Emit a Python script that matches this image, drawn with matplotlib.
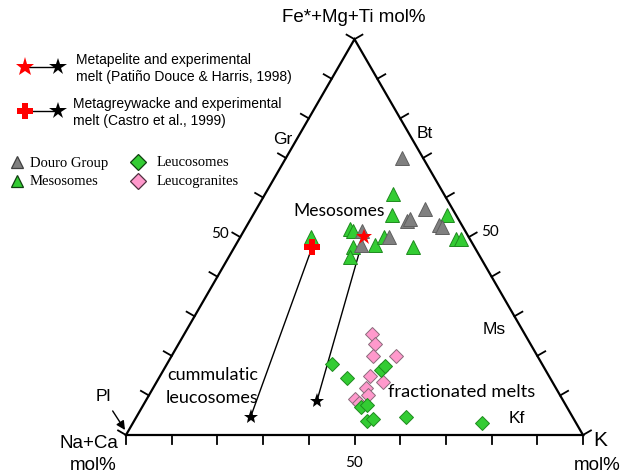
import numpy as np
import matplotlib
matplotlib.use("Agg")
import matplotlib.pyplot as plt

# ---------------- data (mol %) : Fe*+Mg+Ti, Na+Ca, K ----------------
douro_fe = [70, 57, 54, 54.5, 53, 52.5, 51.5, 48, 50]
douro_k  = [25.5, 37, 34.5, 35, 42, 43, 26, 27.5, 32.5]
douro_na = [100 - f - k for f, k in zip(douro_fe, douro_k)]

meso_fe = [61, 55.5, 55.5, 52, 51.5, 47.5, 45, 48, 50, 47.5, 49.5, 49.5, 50]
meso_k  = [28, 30.5, 42.5, 23, 24, 26, 26.5, 30.5, 31.5, 39, 47.5, 48.5, 15.5]
meso_na = [100 - f - k for f, k in zip(meso_fe, meso_k)]

leuco_fe = [18, 14.5, 16.5, 17.5, 7, 7.5, 3.5, 4, 4.5, 3]
leuco_k  = [36, 41, 47.5, 48, 48, 49, 51, 52, 59, 76.5]
leuco_na = [100 - f - k for f, k in zip(leuco_fe, leuco_k)]

lg_fe = [25.5, 23, 20, 20, 15, 13.5, 12, 10, 9, 8]
lg_k  = [41, 43, 44, 49, 46, 49.5, 46.5, 48, 45.5, 47]
lg_na = [100 - f - k for f, k in zip(lg_fe, lg_k)]

# experimental: source -> melt
pelite_src = (50, 23, 27)     # Fe, Na, K  (Patino Douce & Harris 1998)
pelite_melt = (8.5, 54, 37.5)
greyw_src = (47.5, 35.5, 17)  # Castro et al. 1999
greyw_melt = (4.5, 70.5, 25)

tick_values = [50]

# ---------------- helpers ----------------
S3 = np.sqrt(3) / 2


def tern(fe, na, k):
    fe = np.asarray(fe, float); na = np.asarray(na, float); k = np.asarray(k, float)
    tot = fe + na + k
    fe = fe / tot; k = k / tot
    return k + fe / 2, fe * S3


W, H = 623, 477
X0, Y0, SIDE = 126, 436, 457


def P(px, py):
    """figure pixel -> data coords (for annotation placement)"""
    return (px - X0) / SIDE, (Y0 - py) / SIDE


fig = plt.figure(figsize=(W / 100, H / 100), dpi=100)
ax = fig.add_axes([0, 0, 1, 1])
ax.set_xlim(-X0 / SIDE, (W - X0) / SIDE)
ax.set_ylim(-(H - Y0) / SIDE, Y0 / SIDE)
ax.axis("off")

# triangle
ax.plot([0, 1, 0.5, 0], [0, 0, S3, 0], color="black", lw=1.6, zorder=2,
        solid_joinstyle="miter")

# ticks (perpendicular, outward)
L = 0.02
for i in range(11):
    f = i / 10
    ax.plot([f, f], [0, -L], color="black", lw=1.3, zorder=2)
    x, y = 0.5 * f, S3 * f
    ax.plot([x, x - 0.866 * L], [y, y + 0.5 * L], color="black", lw=1.3, zorder=2)
    x, y = 1 - 0.5 * f, S3 * f
    ax.plot([x, x + 0.866 * L], [y, y + 0.5 * L], color="black", lw=1.3, zorder=2)

sans = ["Liberation Sans", "DejaVu Sans"]
cal = ["Lato", "DejaVu Sans"]
serif = ["Liberation Serif", "DejaVu Serif"]

for v in tick_values:
    ax.text(*P(354, 463), str(v), ha="center", va="center", fontsize=11, family=cal)
    ax.text(*P(229, 234), str(v), ha="right", va="center", fontsize=11, family=cal)
    ax.text(*P(481, 232), str(v), ha="left", va="center", fontsize=11, family=cal)

# corner labels
ax.text(*P(354, 18), "Fe*+Mg+Ti mol%", ha="center", va="center", fontsize=13.5, family=sans)
ax.text(*P(89, 444), "Na+Ca", ha="center", va="center", fontsize=13.5, family=sans)
ax.text(*P(93, 466), "mol%", ha="center", va="center", fontsize=13.5, family=sans)
ax.text(*P(600, 441), "K", ha="center", va="center", fontsize=15, family=sans)
ax.text(*P(597, 466), "mol%", ha="center", va="center", fontsize=13.5, family=sans)

# mineral labels
for s, (px, py) in {"Gr": (283, 140), "Bt": (425, 133), "Ms": (494, 330),
                    "Kf": (517, 419)}.items():
    ax.text(*P(px, py), s, ha="center", va="center", fontsize=12.5, family=sans)
ax.annotate("Pl", xy=P(125, 431), xytext=P(103, 397), ha="center", va="center",
            fontsize=12.5, family=sans,
            arrowprops=dict(arrowstyle="-|>", color="black", lw=1.0,
                            mutation_scale=13, shrinkA=4, shrinkB=0))

ax.text(*P(339, 211), "Mesosomes", ha="center", va="center", fontsize=12.5, family=cal)
ax.text(*P(213, 375), "cummulatic", ha="center", va="center", fontsize=13, family=cal)
ax.text(*P(212, 398), "leucosomes", ha="center", va="center", fontsize=13, family=cal)
ax.text(*P(462, 392), "fractionated melts", ha="center", va="center", fontsize=13.2, family=cal)

# tie lines
for src, melt in [(greyw_src, greyw_melt), (pelite_src, pelite_melt)]:
    x1, y1 = tern(*src)
    x2, y2 = tern(*melt)
    ax.plot([x1, x2], [y1, y2], color="black", lw=1.0, zorder=3)

GREEN = "#33cc33"
GREEN_E = "#1f8a1f"
GREY = "#808080"
PINK = "#ff99cc"

x, y = tern(meso_fe, meso_na, meso_k)
ax.plot(x, y, "^", ms=9.5, mfc=GREEN, mec=GREEN_E, mew=0.7, ls="none", zorder=4)
x, y = tern(douro_fe, douro_na, douro_k)
ax.plot(x, y, "^", ms=9.5, mfc=GREY, mec="#606060", mew=0.7, ls="none", zorder=4)
x, y = tern(lg_fe, lg_na, lg_k)
ax.plot(x, y, "D", ms=7, mfc=PINK, mec="#8a6a7a", mew=0.7, ls="none", zorder=4)
x, y = tern(leuco_fe, leuco_na, leuco_k)
ax.plot(x, y, "D", ms=7, mfc=GREEN, mec=GREEN_E, mew=0.7, ls="none", zorder=5)

x, y = tern(*greyw_src)
ax.plot(x, y, "P", ms=11, mfc="red", mec="red", mew=0, zorder=6)
x, y = tern(*pelite_src)
ax.plot(x, y, "*", ms=12, mfc="red", mec="red", mew=0, zorder=6)
for m in (greyw_melt, pelite_melt):
    x, y = tern(*m)
    ax.plot(x, y, "*", ms=11, mfc="black", mec="black", mew=0, zorder=6)

# legend 1 (experimental)
for (py, mk, txt1, txt2) in [(68, "*", "Metapelite and experimental",
                              "melt (Patiño Douce & Harris, 1998)"),
                             (112, "P", "Metagreywacke and experimental",
                              "melt (Castro et al., 1999)")]:
    a = P(25, py); b = P(58, py)
    ax.plot([a[0], b[0]], [a[1], b[1]], color="black", lw=1.0, zorder=3)
    ax.plot(*a, mk, ms=14 if mk == "*" else 12, mfc="red", mec="red", mew=0, zorder=4)
    ax.plot(*b, "*", ms=13, mfc="black", mec="black", mew=0, zorder=4)
    tx = 76 if mk == "*" else 73
    ax.text(*P(tx, py - 8), txt1, ha="left", va="center", fontsize=10, family=sans)
    ax.text(*P(tx, py + 9), txt2, ha="left", va="center", fontsize=10, family=sans)

# legend 2 (samples)
legend2 = [(17, 163, "^", GREY, "#404040", "Douro Group"),
           (17, 182, "^", GREEN, "#104010", "Mesosomes"),
           (138, 163, "D", GREEN, "#104010", "Leucosomes"),
           (138, 182, "D", PINK, "#503040", "Leucogranites")]
for px, py, mk, fc, ec, lab in legend2:
    ax.plot(*P(px, py), mk, ms=9 if mk == "^" else 8, mfc=fc, mec=ec, mew=0.9, zorder=4)
    ax.text(*P(px + 13 if mk == "^" else px + 19, py), lab, ha="left", va="center",
            fontsize=10.5, family=serif)

fig.savefig("out.png", dpi=100)
